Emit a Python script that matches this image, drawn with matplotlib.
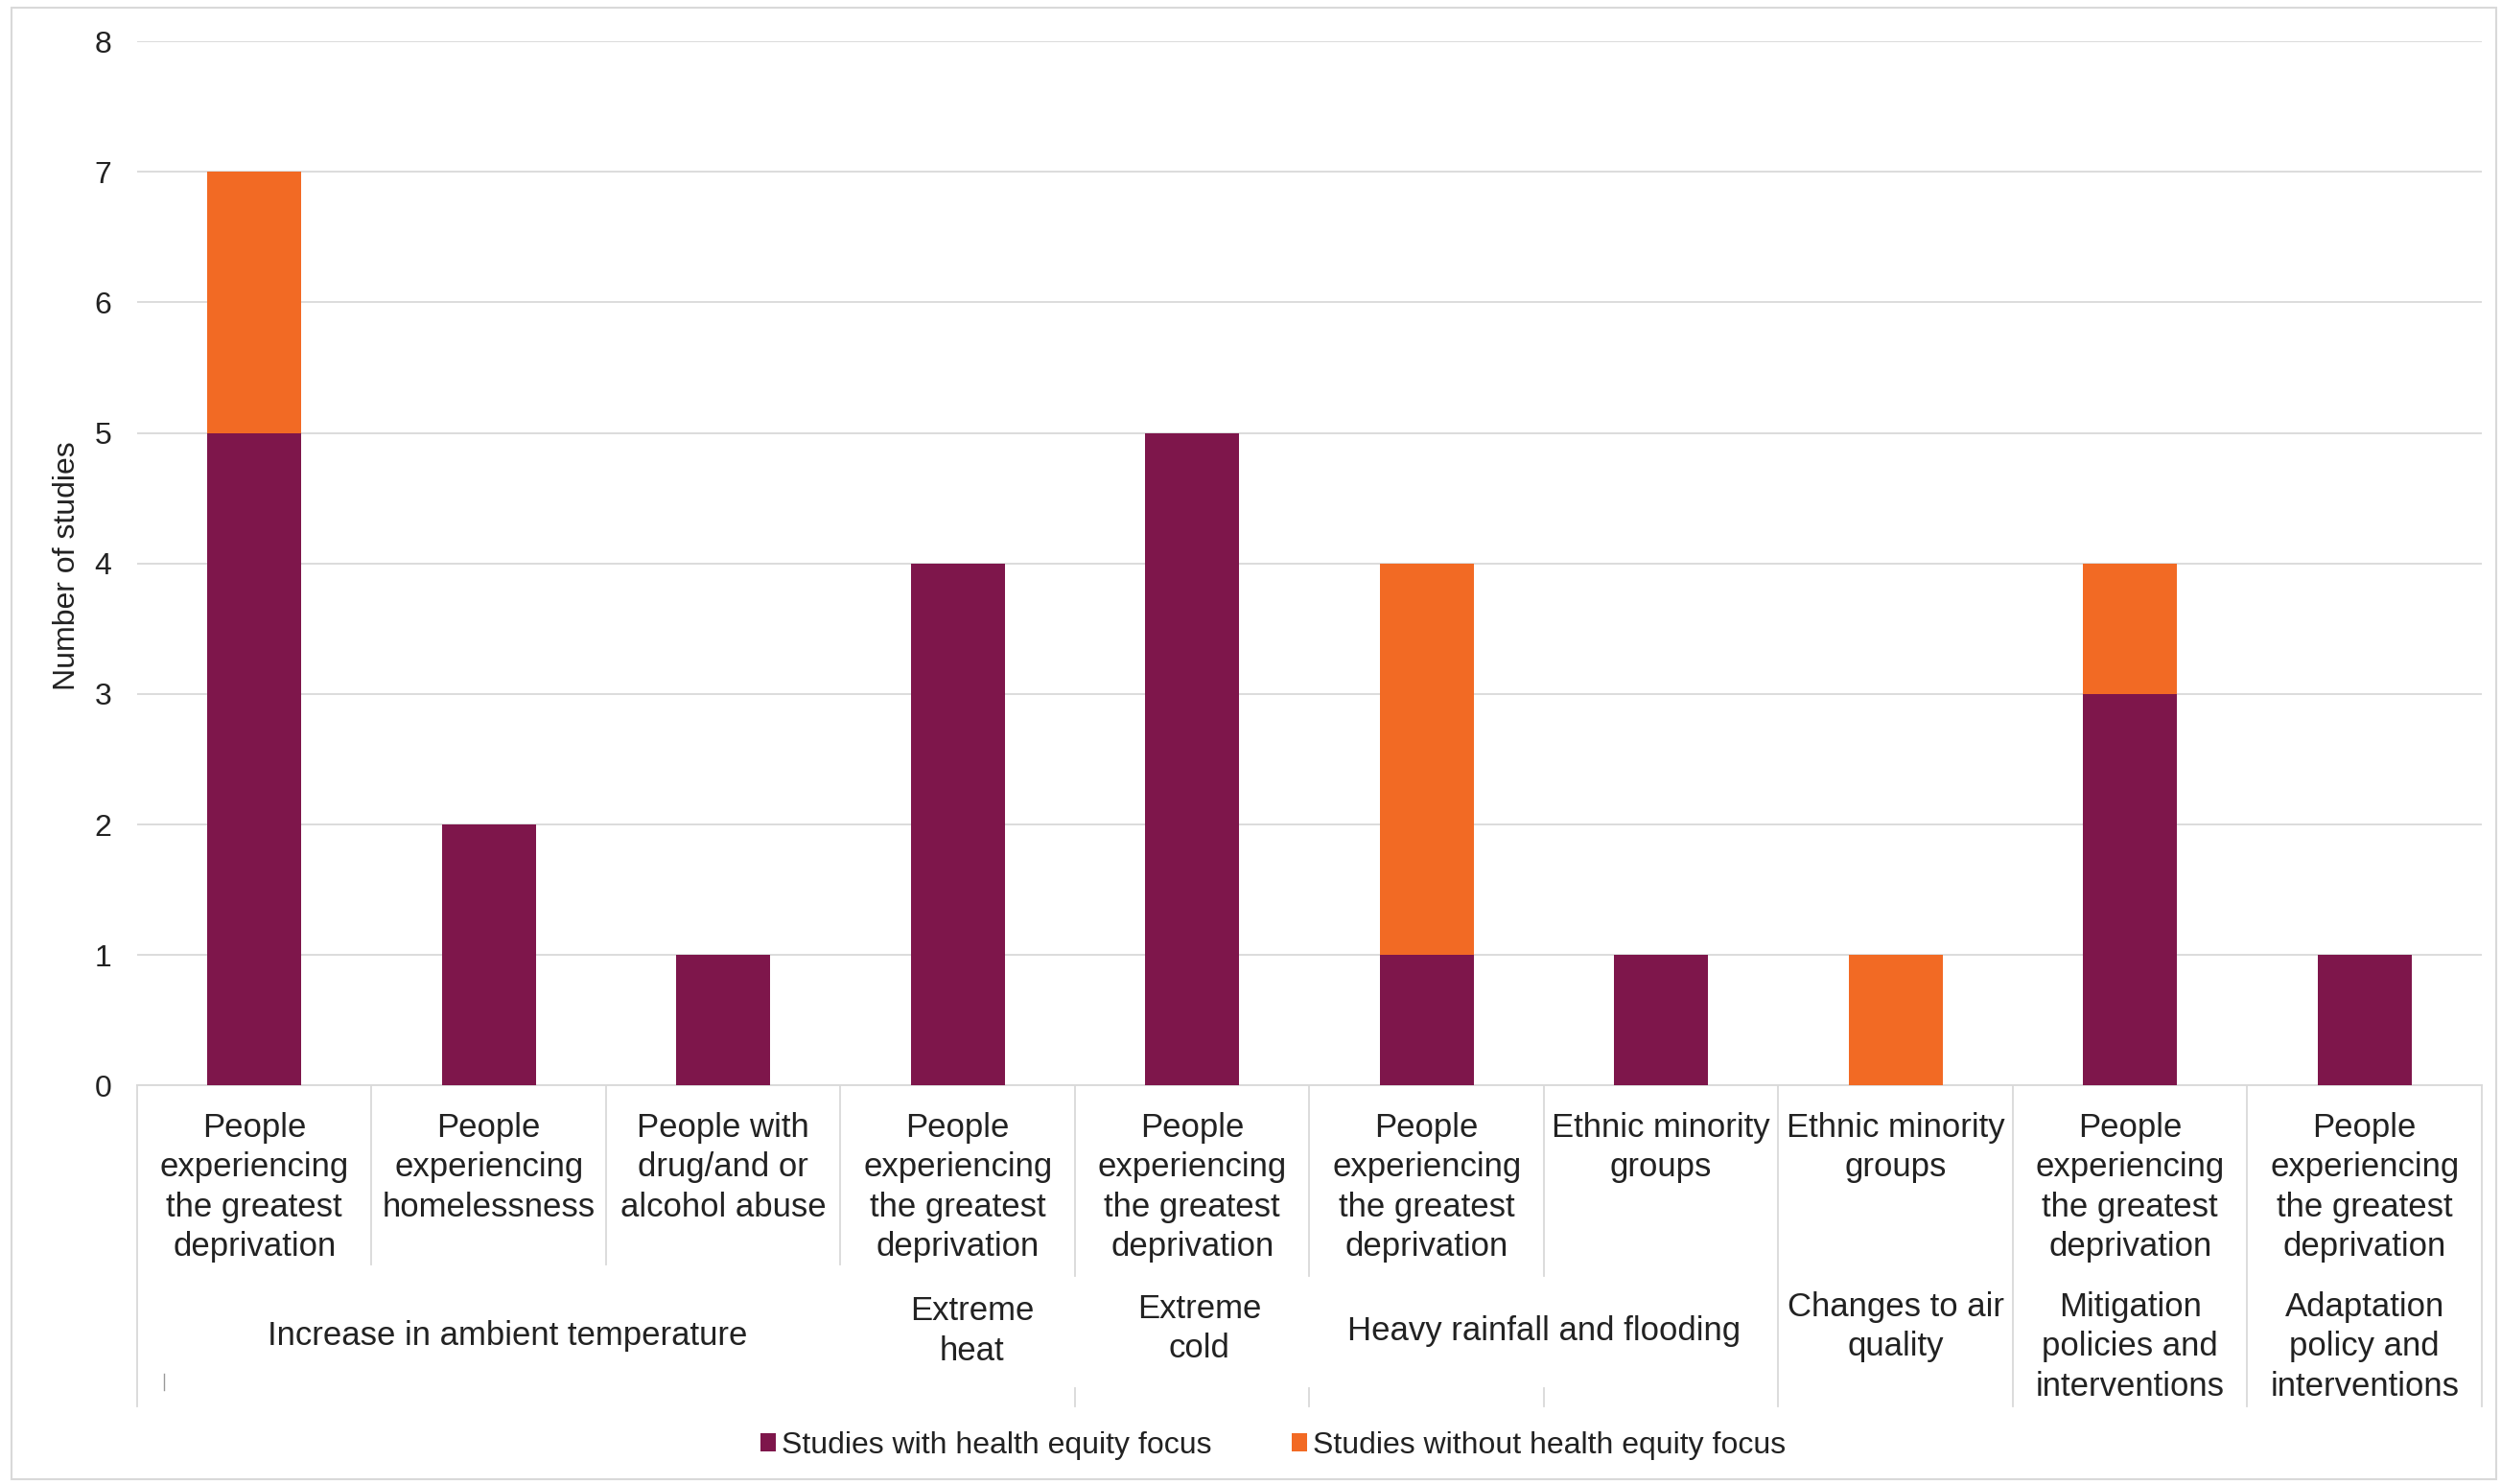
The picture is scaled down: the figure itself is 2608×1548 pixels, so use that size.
import matplotlib
matplotlib.use('Agg')
import matplotlib.pyplot as plt
import numpy as np

# ===== DATA =====
categories = [
    'People\nexperiencing\nthe greatest\ndeprivation',
    'People\nexperiencing\nhomelessness',
    'People with\ndrug/and or\nalcohol abuse',
    'People\nexperiencing\nthe greatest\ndeprivation',
    'People\nexperiencing\nthe greatest\ndeprivation',
    'People\nexperiencing\nthe greatest\ndeprivation',
    'Ethnic minority\ngroups',
    'Ethnic minority\ngroups',
    'People\nexperiencing\nthe greatest\ndeprivation',
    'People\nexperiencing\nthe greatest\ndeprivation',
]
with_focus    = [5, 2, 1, 4, 5, 1, 1, 0, 3, 1]
without_focus = [2, 0, 0, 0, 0, 3, 0, 1, 1, 0]

group_names = ['Increase in ambient temperature', 'Extreme\nheat', 'Extreme\ncold',
               'Heavy rainfall and flooding', 'Changes to air\nquality',
               'Mitigation\npolicies and\ninterventions',
               'Adaptation\npolicy and\ninterventions']
group_first = [0, 3, 4, 5, 7, 8, 9]
group_last  = [2, 3, 4, 6, 7, 8, 9]

series_names = ['Studies with health equity focus', 'Studies without health equity focus']

# ===== STYLE =====
PURPLE = '#7E164B'
ORANGE = '#F26A24'
GRID = '#D9D9D9'
TXT = '#222222'
plt.rcParams['font.family'] = ['Liberation Sans', 'DejaVu Sans']

fig = plt.figure(figsize=(26.08, 15.48), dpi=100)
ax = fig.add_axes([0.0548, 0.2685, 0.9375, 0.7036])

x = np.arange(len(categories))
ax.bar(x, with_focus, width=0.4, color=PURPLE, label=series_names[0], zorder=3)
ax.bar(x, without_focus, width=0.4, bottom=with_focus, color=ORANGE,
       label=series_names[1], zorder=3)

ax.set_xlim(-0.5, len(categories) - 0.5)
ax.set_ylim(0, 8)
ax.set_yticks(range(0, 9))
ax.yaxis.grid(True, color=GRID, linewidth=1.3, zorder=0)
ax.set_xticks([])
ax.tick_params(axis='y', length=0, pad=19, labelsize=23, labelcolor=TXT)
for s in ['top', 'right', 'left']:
    ax.spines[s].set_visible(False)
ax.spines['bottom'].set_color(GRID)
ax.spines['bottom'].set_linewidth(1.3)

# ===== MULTI-LEVEL CATEGORY AXIS =====
tr = ax.get_xaxis_transform()
for xi, lab in zip(x, categories):
    ax.text(xi, -0.025, lab, transform=tr, ha='center', va='top',
            fontsize=25, color=TXT, linespacing=1.33)

group_y = [-0.240, -0.235, -0.233, -0.235, -0.231, -0.250, -0.250]
group_dx = [0.08, 0.06, 0.03, 0.0, 0.0, 0.0, 0.0]
for name, a, b, gy, dx in zip(group_names, group_first, group_last, group_y, group_dx):
    ax.text((a + b) / 2 + dx, gy, name, transform=tr, ha='center', va='center',
            fontsize=25, color=TXT, linespacing=1.33)

sep_full = [-0.5, 6.5, 7.5, 8.5, 9.5]
sep_short = [0.5, 1.5, 2.5]
sep_broken = [3.5, 4.5, 5.5]
lk = dict(transform=tr, color=GRID, linewidth=1.3, clip_on=False)
for b in sep_full:
    ax.plot([b, b], [0, -0.307], **lk)
for b in sep_short:
    ax.plot([b, b], [0, -0.171], **lk)
for b in sep_broken:
    ax.plot([b, b], [0, -0.182], **lk)
    ax.plot([b, b], [-0.290, -0.307], **lk)
ax.plot([-0.384, -0.384], [-0.276, -0.292], transform=tr, color='#999999',
        linewidth=1.0, clip_on=False)

# ===== Y LABEL, LEGEND, BORDER =====
fig.text(0.0268, 0.619, 'Number of studies', rotation=90, ha='center', va='center',
         fontsize=23, color=TXT)

fig.legend(loc='center', bbox_to_anchor=(0.509, 0.026), ncol=2, frameon=False,
           fontsize=23, handlelength=0.5, handleheight=0.5, handletextpad=0.2,
           columnspacing=2.6, labelcolor=TXT)

fig.patches.append(plt.Rectangle((0.0045, 0.003), 0.9935, 0.9916, transform=fig.transFigure,
                                 fill=False, edgecolor=GRID, linewidth=1.5))

fig.savefig('out.png', dpi=100, facecolor='white')
